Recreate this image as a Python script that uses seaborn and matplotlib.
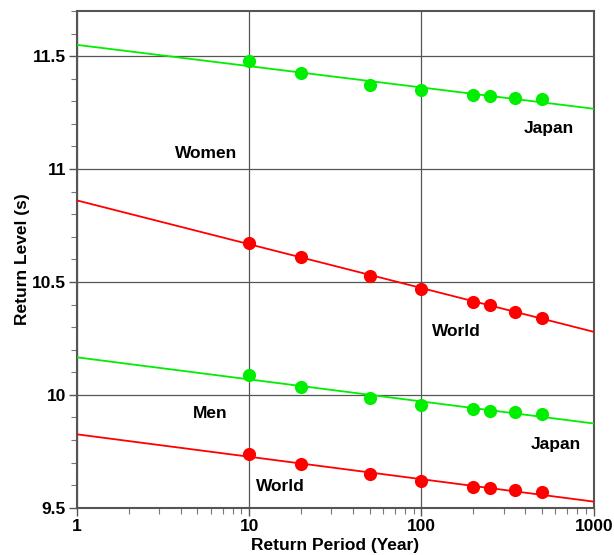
import matplotlib
matplotlib.use("Agg")
import matplotlib.pyplot as plt
import seaborn as sns
import pandas as pd
import numpy as np
from matplotlib.ticker import LogLocator, MultipleLocator, FixedLocator, NullFormatter

sns.set_theme(style="white")
plt.rcParams['font.family'] = ['Liberation Sans', 'DejaVu Sans']
plt.rcParams['font.weight'] = 'bold'
plt.rcParams['text.color'] = 'black'
plt.rcParams['axes.labelcolor'] = 'black'
plt.rcParams['xtick.color'] = 'black'
plt.rcParams['ytick.color'] = 'black'

periods = [10, 20, 50, 100, 200, 250, 350, 500]
women_japan = [11.477, 11.425, 11.373, 11.348, 11.327, 11.323, 11.316, 11.310]
women_world = [10.673, 10.609, 10.528, 10.468, 10.413, 10.396, 10.367, 10.341]
men_japan = [10.087, 10.034, 9.985, 9.956, 9.937, 9.929, 9.923, 9.916]
men_world = [9.739, 9.695, 9.648, 9.618, 9.593, 9.586, 9.577, 9.568]

fit_x = [1, 1000]
fit_women_japan = [11.550, 11.267]
fit_women_world = [10.861, 10.279]
fit_men_japan = [10.166, 9.873]
fit_men_world = [9.825, 9.527]

green = "#00ee00"
red = "#ff0000"

series = [
    ("Women Japan", women_japan, fit_women_japan, green),
    ("Women World", women_world, fit_women_world, red),
    ("Men Japan", men_japan, fit_men_japan, green),
    ("Men World", men_world, fit_men_world, red),
]

fig = plt.figure(figsize=(6.14, 5.55), dpi=100)
ax = fig.add_axes([77/614, 1 - 507.7/555, (593.7-77)/614, (507.7-11)/555])

for name, vals, fit, col in series:
    lf = pd.DataFrame({"x": fit_x, "y": fit})
    sns.lineplot(data=lf, x="x", y="y", color=col, lw=1.3, ax=ax, zorder=3)
    pf = pd.DataFrame({"x": periods, "y": vals})
    sns.scatterplot(data=pf, x="x", y="y", color=col, s=90, edgecolor=col,
                    linewidth=0, ax=ax, zorder=4)

ax.set_xscale("log")
ax.set_xlim(1, 1000)
ax.set_ylim(9.5, 11.7)
ax.xaxis.set_major_locator(FixedLocator([1, 10, 100, 1000]))
ax.set_xticklabels(["1", "10", "100", "1000"])
ax.xaxis.set_minor_locator(LogLocator(base=10, subs=np.arange(2, 10)))
ax.xaxis.set_minor_formatter(NullFormatter())
ax.yaxis.set_major_locator(FixedLocator([9.5, 10, 10.5, 11, 11.5]))
ax.set_yticklabels(["9.5", "10", "10.5", "11", "11.5"])
ax.yaxis.set_minor_locator(MultipleLocator(0.1))

ax.grid(True, which="major", color="#555555", lw=0.9)
ax.tick_params(axis="both", which="major", direction="out", length=6, width=1,
               color="#555555", labelsize=12.5, pad=2, bottom=True, left=True)
ax.tick_params(axis="both", which="minor", direction="out", length=4, width=0.8,
               color="#777777", bottom=True, left=True)
for lab in ax.get_xticklabels() + ax.get_yticklabels():
    lab.set_fontweight("bold")
for sp in ax.spines.values():
    sp.set_color("#555555")
    sp.set_linewidth(1.5)

ax.set_xlabel("Return Period (Year)", fontsize=12.5, fontweight="bold", labelpad=3)
ax.set_ylabel("Return Level (s)", fontsize=12.5, fontweight="bold", labelpad=1)

label_pos = [("Women", 5.6, 11.069), ("Japan", 547, 11.18), ("World", 160, 10.282),
             ("Men", 5.9, 9.918), ("Japan", 601, 9.78), ("World", 15.1, 9.592)]
for t, x, y in label_pos:
    ax.text(x, y, t, fontsize=12.5, fontweight="bold", ha="center", va="center", zorder=5)

fig.savefig("out.png", dpi=100)
